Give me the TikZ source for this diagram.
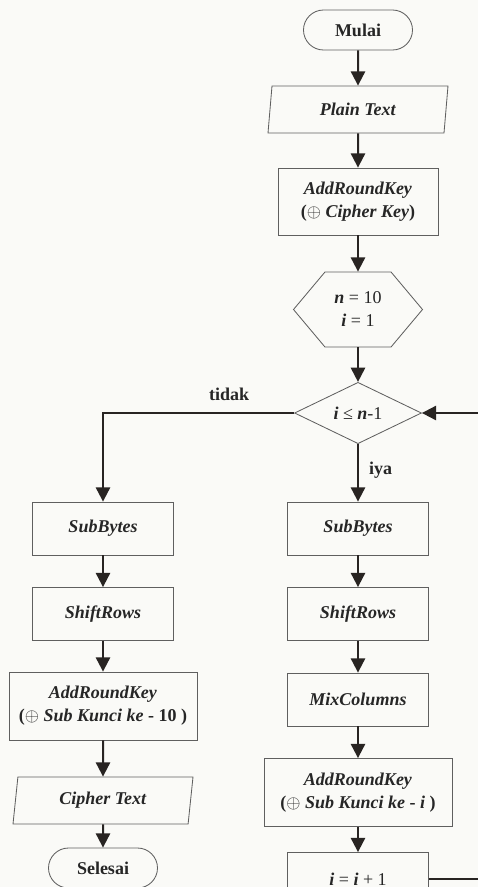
\documentclass[tikz,border=0pt]{standalone}
\usepackage{fontspec}
\setmainfont{Liberation Serif}
\usetikzlibrary{shapes,shapes.geometric,shapes.symbols,arrows.meta,positioning,calc}
\definecolor{linegray}{RGB}{40,36,34}
\definecolor{boxgray}{RGB}{95,95,95}
\definecolor{bgpaper}{RGB}{250,250,247}

\begin{document}
\begin{tikzpicture}[x=0.6pt, y=-0.6pt,
    font=\fontsize{10.8}{13.8}\selectfont\bfseries, text=black!85,
    every node/.style = {align=center, inner sep=1pt},
    box/.style = {shape=rectangle, draw=boxgray, line width=0.5pt,
      minimum width=84.6pt, minimum height=31.8pt},
    widebox/.style = {box, minimum width=112.8pt, minimum height=40.8pt},
    terminal/.style = {shape=rectangle, rounded corners=12pt, draw=boxgray,
      line width=0.5pt, minimum width=65.4pt, minimum height=24pt},
    io/.style = {trapezium, trapezium left angle=76, trapezium right angle=104,
      trapezium stretches body, draw=boxgray, line width=0.5pt,
      minimum width=108pt, minimum height=28.2pt},
    prep/.style = {signal, signal to=west and east, signal pointer angle=100,
      draw=boxgray, line width=0.5pt, minimum width=77.4pt, minimum height=45pt},
    decision/.style = {diamond, draw=boxgray, line width=0.5pt, inner sep=0pt,
      minimum width=76.2pt, minimum height=36pt},
    flow/.style = {draw=linegray, line width=1.2pt, -{Triangle[length=8.5pt,width=8.5pt]}}]
  \useasboundingbox (0,0) rectangle (478,887);
  \fill[bgpaper] (0,0) rectangle (478,887);
  \clip (0,0) rectangle (478,887);

  % main column
  \node[terminal] (mulai) at (358,30) {Mulai};
  \node[io] (plain) at (358,109.5) {\textit{Plain Text}};
  \node[box, minimum width=96pt, minimum height=40.2pt] (addkey1) at (358,201.5)
    {\textit{AddRoundKey}\\($\oplus$ \textit{Cipher Key})};
  \node[prep] (init) at (358,309.5) {\textit{n} {\mdseries = 10}\\\textit{i} {\mdseries = 1}};
  \node[decision] (cek) at (358,413) {\textit{i} {\mdseries ≤} \textit{n}{\mdseries -1}};

  % loop body
  \node[box] (sub2) at (358,528.5) {\textit{SubBytes}};
  \node[box] (shift2) at (358,614) {\textit{ShiftRows}};
  \node[box] (mix) at (358,699.5) {\textit{MixColumns}};
  \node[widebox] (addkey3) at (358,792.5)
    {\textit{AddRoundKey}\\($\oplus$ \textit{Sub Kunci ke} - \textit{i} )};
  \node[box] (inc) at (358,879) {\textit{i} {\mdseries =} \textit{i} {\mdseries + 1}};
  \coordinate (balik) at (482,0);

  % last round
  \node[box] (sub1) at (103,528.5) {\textit{SubBytes}};
  \node[box] (shift1) at (103,614) {\textit{ShiftRows}};
  \node[widebox] (addkey2) at (103,706)
    {\textit{AddRoundKey}\\($\oplus$ \textit{Sub Kunci ke} - 10 )};
  \node[io] (cipher) at (103,800.5) {\textit{Cipher Text}};
  \node[terminal] (selesai) at (103,868) {Selesai};

  \draw[flow] (mulai.south) -- (plain.north);
  \draw[flow] (plain.south) -- (addkey1.north);
  \draw[flow] (addkey1.south) -- (init.north);
  \draw[flow] (init.south) -- (cek.north);
  \draw[flow] (cek.west) -| node[pos=0.17, above=5.5pt] {tidak} (sub1.north);
  \draw[flow] (cek.south) -- node[pos=0.46, right=5pt] {iya} (sub2.north);
  \draw[flow] (sub2.south) -- (shift2.north);
  \draw[flow] (shift2.south) -- (mix.north);
  \draw[flow] (mix.south) -- (addkey3.north);
  \draw[flow] (addkey3.south) -- (inc.north);
  \draw[flow] (inc.east) -- (inc.east -| balik) |- (cek.east);
  \draw[flow] (sub1.south) -- (shift1.north);
  \draw[flow] (shift1.south) -- (addkey2.north);
  \draw[flow] (addkey2.south) -- (cipher.north);
  \draw[flow] (cipher.south) -- (selesai.north);
\end{tikzpicture}
\end{document}
